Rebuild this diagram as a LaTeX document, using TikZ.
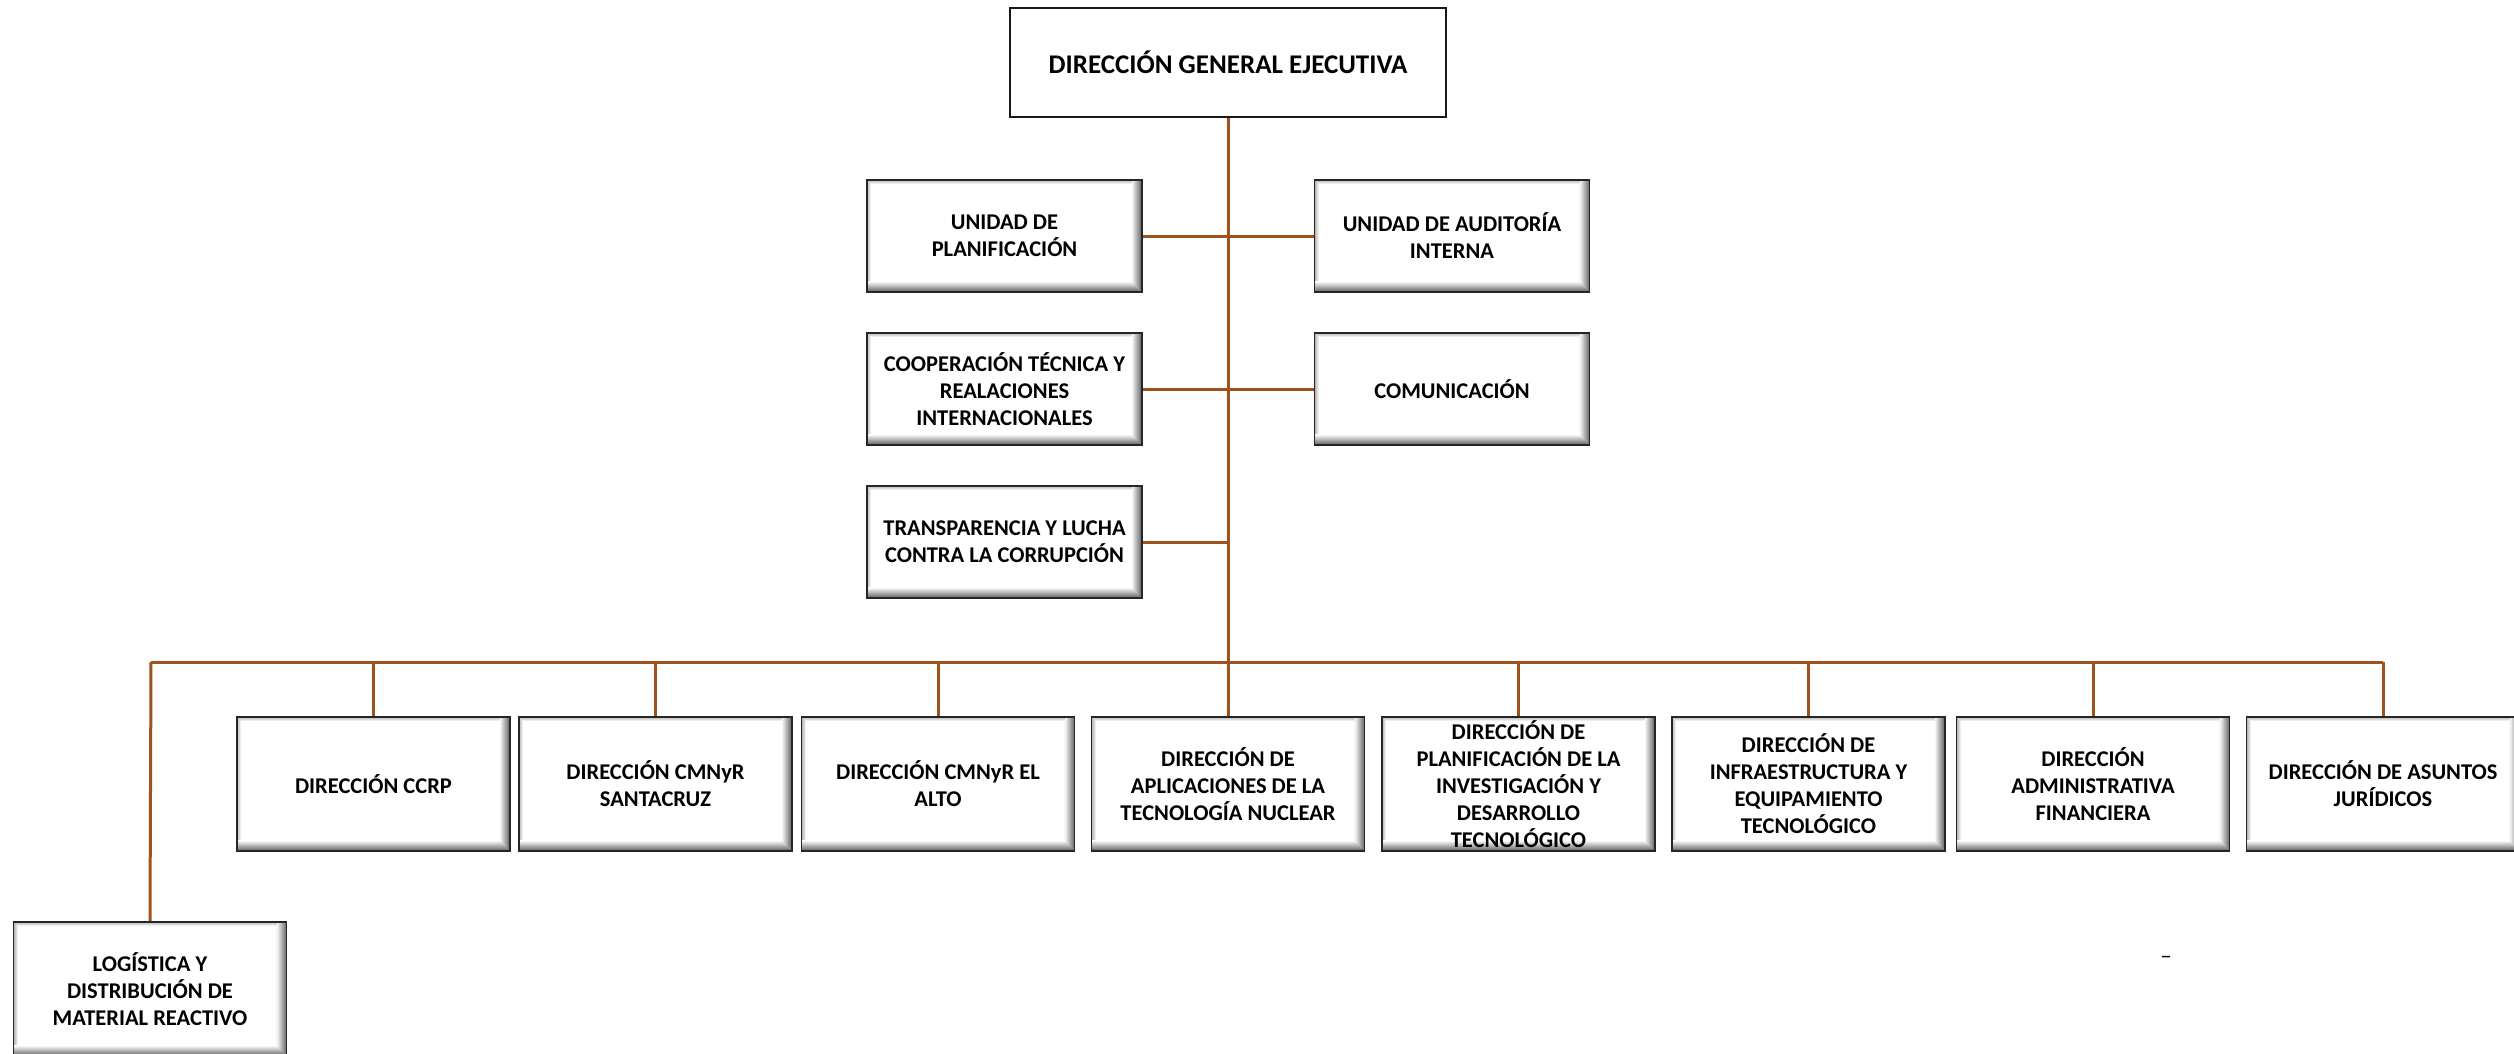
\documentclass[tikz,border=0pt]{standalone}
\usepackage{fontspec}
\setmainfont{Carlito}
\definecolor{conn}{RGB}{160,82,28}
\begin{document}
\begin{tikzpicture}[x=1pt,y=-1pt,
  bevel/.style={path picture={
    \foreach \i in {0,...,9}{
      \pgfmathsetmacro\shadeval{int(58-6*\i)}
      \fill[black!\shadeval] ([xshift={-(\i+1.3)*1pt}]path picture bounding box.north east) rectangle ([xshift={-\i*1pt},yshift={\i*1pt}]path picture bounding box.south east);
      \fill[black!\shadeval] ([yshift={(\i+1.3)*1pt}]path picture bounding box.south west) rectangle ([xshift={-\i*1pt},yshift={\i*1pt}]path picture bounding box.south east);
    }
    \foreach \i in {0,...,3}{
      \pgfmathsetmacro\shadeval{int(28-7*\i)}
      \fill[black!\shadeval] ([xshift={\i*1pt},yshift={-\i*1pt}]path picture bounding box.north west) rectangle ([xshift={(\i+1.3)*1pt},yshift={11pt}]path picture bounding box.south west);
      \fill[black!\shadeval] ([xshift={\i*1pt},yshift={-\i*1pt}]path picture bounding box.north west) rectangle ([yshift={-(\i+1.3)*1pt},xshift={-10pt}]path picture bounding box.north east);
    }
  }},
  basebox/.style={draw=black!85,line width=1.6pt,fill=white,inner sep=0pt,align=center,
    font=\fontsize{22.5}{27}\selectfont\bfseries,bevel},
  box/.style={basebox,minimum width=273pt,minimum height=134pt},
  sidebox/.style={basebox,minimum width=275pt,minimum height=112pt},
  topbox/.style={draw=black!90,line width=1.3pt,fill=white,inner sep=0pt,align=center,
    minimum width=436pt,minimum height=109pt,font=\fontsize{27}{32}\selectfont\bfseries},
  conline/.style={draw=conn,line width=3pt}]
\useasboundingbox (0,0) rectangle (2514,1054);

\node[topbox] (top) at (1228,62.5) {DIRECCIÓN GENERAL EJECUTIVA};

\node[sidebox] (up) at (1004.5,236) {UNIDAD DE\\PLANIFICACIÓN};
\node[sidebox] (ua) at (1452,236) {UNIDAD DE AUDITORÍA\\INTERNA};
\node[sidebox] (coop) at (1004.5,389) {COOPERACIÓN TÉCNICA Y\\REALACIONES\\INTERNACIONALES};
\node[sidebox] (com) at (1452,389) {COMUNICACIÓN};
\node[sidebox] (tr) at (1004.5,542) {TRANSPARENCIA Y LUCHA\\CONTRA LA CORRUPCIÓN};

\node[box] (b1) at (373.5,784) {DIRECCIÓN CCRP};
\node[box] (b2) at (655.5,784) {DIRECCIÓN CMNyR\\SANTACRUZ};
\node[box] (b3) at (938,784) {DIRECCIÓN CMNyR EL\\ALTO};
\node[box] (b4) at (1228,784) {DIRECCIÓN DE\\APLICACIONES DE LA\\TECNOLOGÍA NUCLEAR};
\node[box] (b5) at (1518.5,784) {DIRECCIÓN DE\\PLANIFICACIÓN DE LA\\INVESTIGACIÓN Y\\DESARROLLO\\TECNOLÓGICO};
\node[box] (b6) at (1808.5,784) {DIRECCIÓN DE\\INFRAESTRUCTURA Y\\EQUIPAMIENTO\\TECNOLÓGICO};
\node[box] (b7) at (2093,784) {DIRECCIÓN\\ADMINISTRATIVA\\FINANCIERA};
\node[box] (b8) at (2383,784) {DIRECCIÓN DE ASUNTOS\\JURÍDICOS};

\node[box] (log) at (150,989) {LOGÍSTICA Y\\DISTRIBUCIÓN DE\\MATERIAL REACTIVO};

\node[inner sep=0pt,font=\fontsize{23}{27}\selectfont] (dash) at (2166,960) {–};

\coordinate (busC) at (1228,662);
\coordinate (busL) at (151,662);
\coordinate (busR) at (2383,662);

\draw[conline] (top.south) -- (busC);
\draw[conline] (up.east) -- (ua.west);
\draw[conline] (coop.east) -- (com.west);
\draw[conline] (tr.east) -- (tr.east -| busC);
\draw[conline] (busL) -- (busR);
\draw[conline] (busL) -- (log.north);
\foreach \b in {b1,b2,b3,b4,b5,b6,b7,b8}{
  \draw[conline] (\b.north |- busC) -- (\b.north);
}
\end{tikzpicture}
\end{document}
